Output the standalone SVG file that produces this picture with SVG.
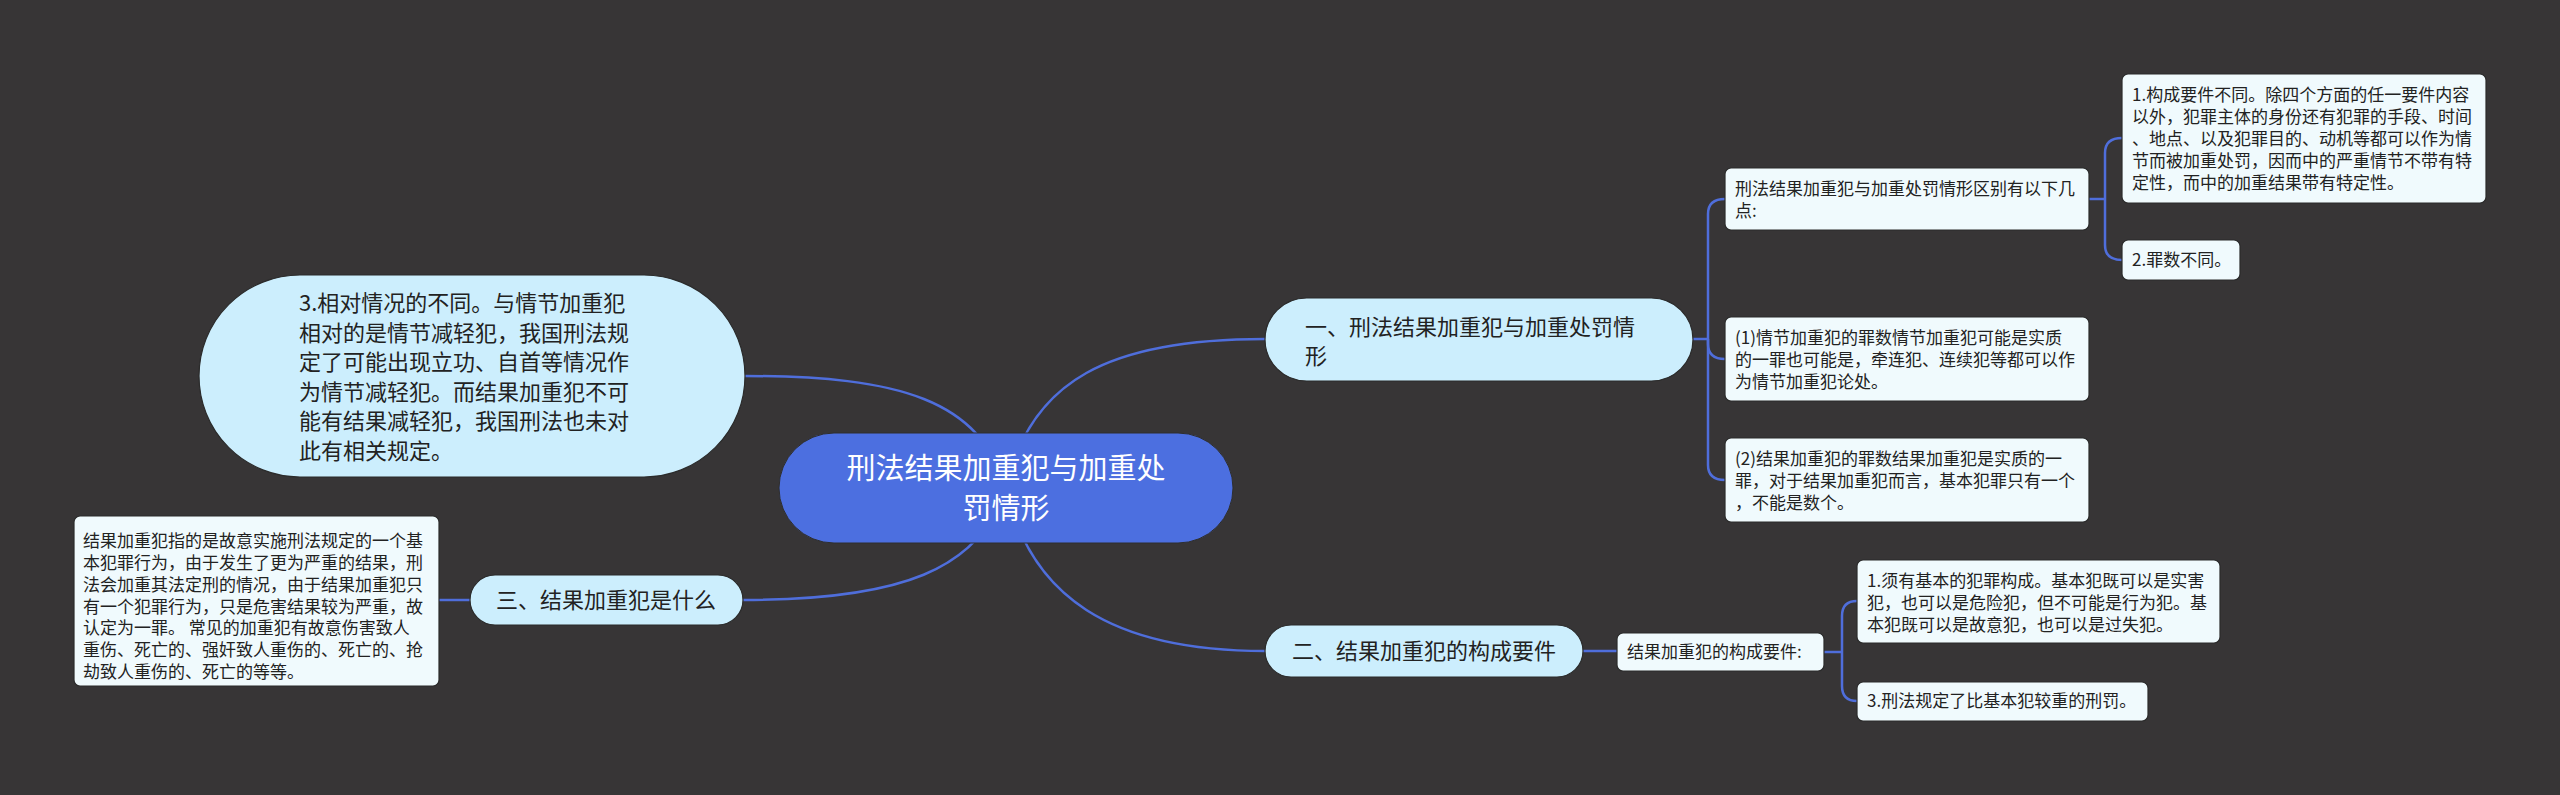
<svg xmlns="http://www.w3.org/2000/svg" width="2560" height="795" viewBox="0 0 2560 795">
<style>
text{font-family:"Noto Sans CJK SC","Noto Sans",sans-serif;}
.c{fill:none;stroke:#4F6EDB;stroke-width:2.5;}
.root{fill:#4C6FE0;stroke:#2e2e2e;stroke-width:1;}
.l1{fill:#CCEEFD;stroke:#2b2b2b;stroke-width:1.2;}
.l2{fill:#F0FAFD;stroke:#2b2b2b;stroke-width:1.2;}
.tr{fill:#ffffff;font-size:29px;text-anchor:middle;}
.t1{fill:#222222;font-size:22px;}
.t2{fill:#222222;font-size:17px;}
</style>
<rect x="0" y="0" width="2560" height="795" fill="#373536"/>
<g id="connectors">
<path class="c" d="M1006,488 C1030,380 1110,339 1265,339"/>
<path class="c" d="M1006,488 C1030,596 1110,651 1265,651"/>
<path class="c" d="M1006,488 C980,400 900,376 745,376"/>
<path class="c" d="M1006,488 C980,570 900,600 743,600"/>
<path class="c" d="M470,600 H439"/>
<path class="c" d="M1693,339 H1708"/>
<path class="c" d="M1708,339 V214 Q1708,199 1725,199"/>
<path class="c" d="M1708,339 V344 Q1708,359 1725,359"/>
<path class="c" d="M1708,339 V465 Q1708,480 1725,480"/>
<path class="c" d="M2089,199 H2105"/>
<path class="c" d="M2105,199 V153 Q2105,138 2122,138"/>
<path class="c" d="M2105,199 V245 Q2105,260 2122,260"/>
<path class="c" d="M1583,651 H1617"/>
<path class="c" d="M1824,652 H1842"/>
<path class="c" d="M1842,652 V616 Q1842,601 1857,601"/>
<path class="c" d="M1842,652 V686 Q1842,701 1857,701"/>
</g>
<g id="root">
<rect class="root" x="779" y="433" width="454" height="110" rx="55"/>
<text class="tr" x="1006" y="479">刑法结果加重犯与加重处</text>
<text class="tr" x="1006" y="519">罚情形</text>
</g>
<g id="n-big3">
<rect class="l1" x="199" y="275" width="546" height="202" rx="101"/>
<text class="t1" x="299" y="311">3.相对情况的不同。与情节加重犯</text>
<text class="t1" x="299" y="341">相对的是情节减轻犯，我国刑法规</text>
<text class="t1" x="299" y="370">定了可能出现立功、自首等情况作</text>
<text class="t1" x="299" y="400">为情节减轻犯。而结果加重犯不可</text>
<text class="t1" x="299" y="429">能有结果减轻犯，我国刑法也未对</text>
<text class="t1" x="299" y="459">此有相关规定。</text>
</g>
<g id="n-san">
<rect class="l1" x="470" y="575" width="273" height="50" rx="25"/>
<text class="t1" x="606" y="608" text-anchor="middle">三、结果加重犯是什么</text>
</g>
<g id="n-san-detail">
<rect class="l2" x="74" y="516" width="365" height="170" rx="6"/>
<text class="t2" x="83" y="547">结果加重犯指的是故意实施刑法规定的一个基</text>
<text class="t2" x="83" y="569">本犯罪行为，由于发生了更为严重的结果，刑</text>
<text class="t2" x="83" y="591">法会加重其法定刑的情况，由于结果加重犯只</text>
<text class="t2" x="83" y="613">有一个犯罪行为，只是危害结果较为严重，故</text>
<text class="t2" x="83" y="634">认定为一罪。 常见的加重犯有故意伤害致人</text>
<text class="t2" x="83" y="656">重伤、死亡的、强奸致人重伤的、死亡的、抢</text>
<text class="t2" x="83" y="678">劫致人重伤的、死亡的等等。</text>
</g>
<g id="n-yi">
<rect class="l1" x="1265" y="298" width="428" height="83" rx="41.5"/>
<text class="t1" x="1305" y="335">一、刑法结果加重犯与加重处罚情</text>
<text class="t1" x="1305" y="364">形</text>
</g>
<g id="n-er">
<rect class="l1" x="1265" y="625" width="318" height="52" rx="26"/>
<text class="t1" x="1424" y="659" text-anchor="middle">二、结果加重犯的构成要件</text>
</g>
<g id="n-diff">
<rect class="l2" x="1725" y="168" width="364" height="62" rx="6"/>
<text class="t2" x="1735" y="195">刑法结果加重犯与加重处罚情形区别有以下几</text>
<text class="t2" x="1735" y="217">点:</text>
</g>
<g id="n-diff-1">
<rect class="l2" x="2122" y="74" width="364" height="129" rx="6"/>
<text class="t2" x="2132" y="101">1.构成要件不同。除四个方面的任一要件内容</text>
<text class="t2" x="2132" y="123">以外，犯罪主体的身份还有犯罪的手段、时间</text>
<text class="t2" x="2132" y="145">、地点、以及犯罪目的、动机等都可以作为情</text>
<text class="t2" x="2132" y="167">节而被加重处罚，因而中的严重情节不带有特</text>
<text class="t2" x="2132" y="189">定性，而中的加重结果带有特定性。</text>
</g>
<g id="n-diff-2">
<rect class="l2" x="2122" y="240" width="118" height="40" rx="6"/>
<text class="t2" x="2132" y="266">2.罪数不同。</text>
</g>
<g id="n-p1">
<rect class="l2" x="1725" y="317" width="364" height="84" rx="6"/>
<text class="t2" x="1735" y="344">(1)情节加重犯的罪数情节加重犯可能是实质</text>
<text class="t2" x="1735" y="366">的一罪也可能是，牵连犯、连续犯等都可以作</text>
<text class="t2" x="1735" y="388">为情节加重犯论处。</text>
</g>
<g id="n-p2">
<rect class="l2" x="1725" y="438" width="364" height="84" rx="6"/>
<text class="t2" x="1735" y="465">(2)结果加重犯的罪数结果加重犯是实质的一</text>
<text class="t2" x="1735" y="487">罪，对于结果加重犯而言，基本犯罪只有一个</text>
<text class="t2" x="1735" y="509">，不能是数个。</text>
</g>
<g id="n-req">
<rect class="l2" x="1617" y="633" width="207" height="38" rx="6"/>
<text class="t2" x="1627" y="658">结果加重犯的构成要件:</text>
</g>
<g id="n-req-1">
<rect class="l2" x="1857" y="560" width="363" height="83" rx="6"/>
<text class="t2" x="1867" y="587">1.须有基本的犯罪构成。基本犯既可以是实害</text>
<text class="t2" x="1867" y="609">犯，也可以是危险犯，但不可能是行为犯。基</text>
<text class="t2" x="1867" y="631">本犯既可以是故意犯，也可以是过失犯。</text>
</g>
<g id="n-req-3">
<rect class="l2" x="1857" y="682" width="291" height="39" rx="6"/>
<text class="t2" x="1867" y="707">3.刑法规定了比基本犯较重的刑罚。</text>
</g>
</svg>
